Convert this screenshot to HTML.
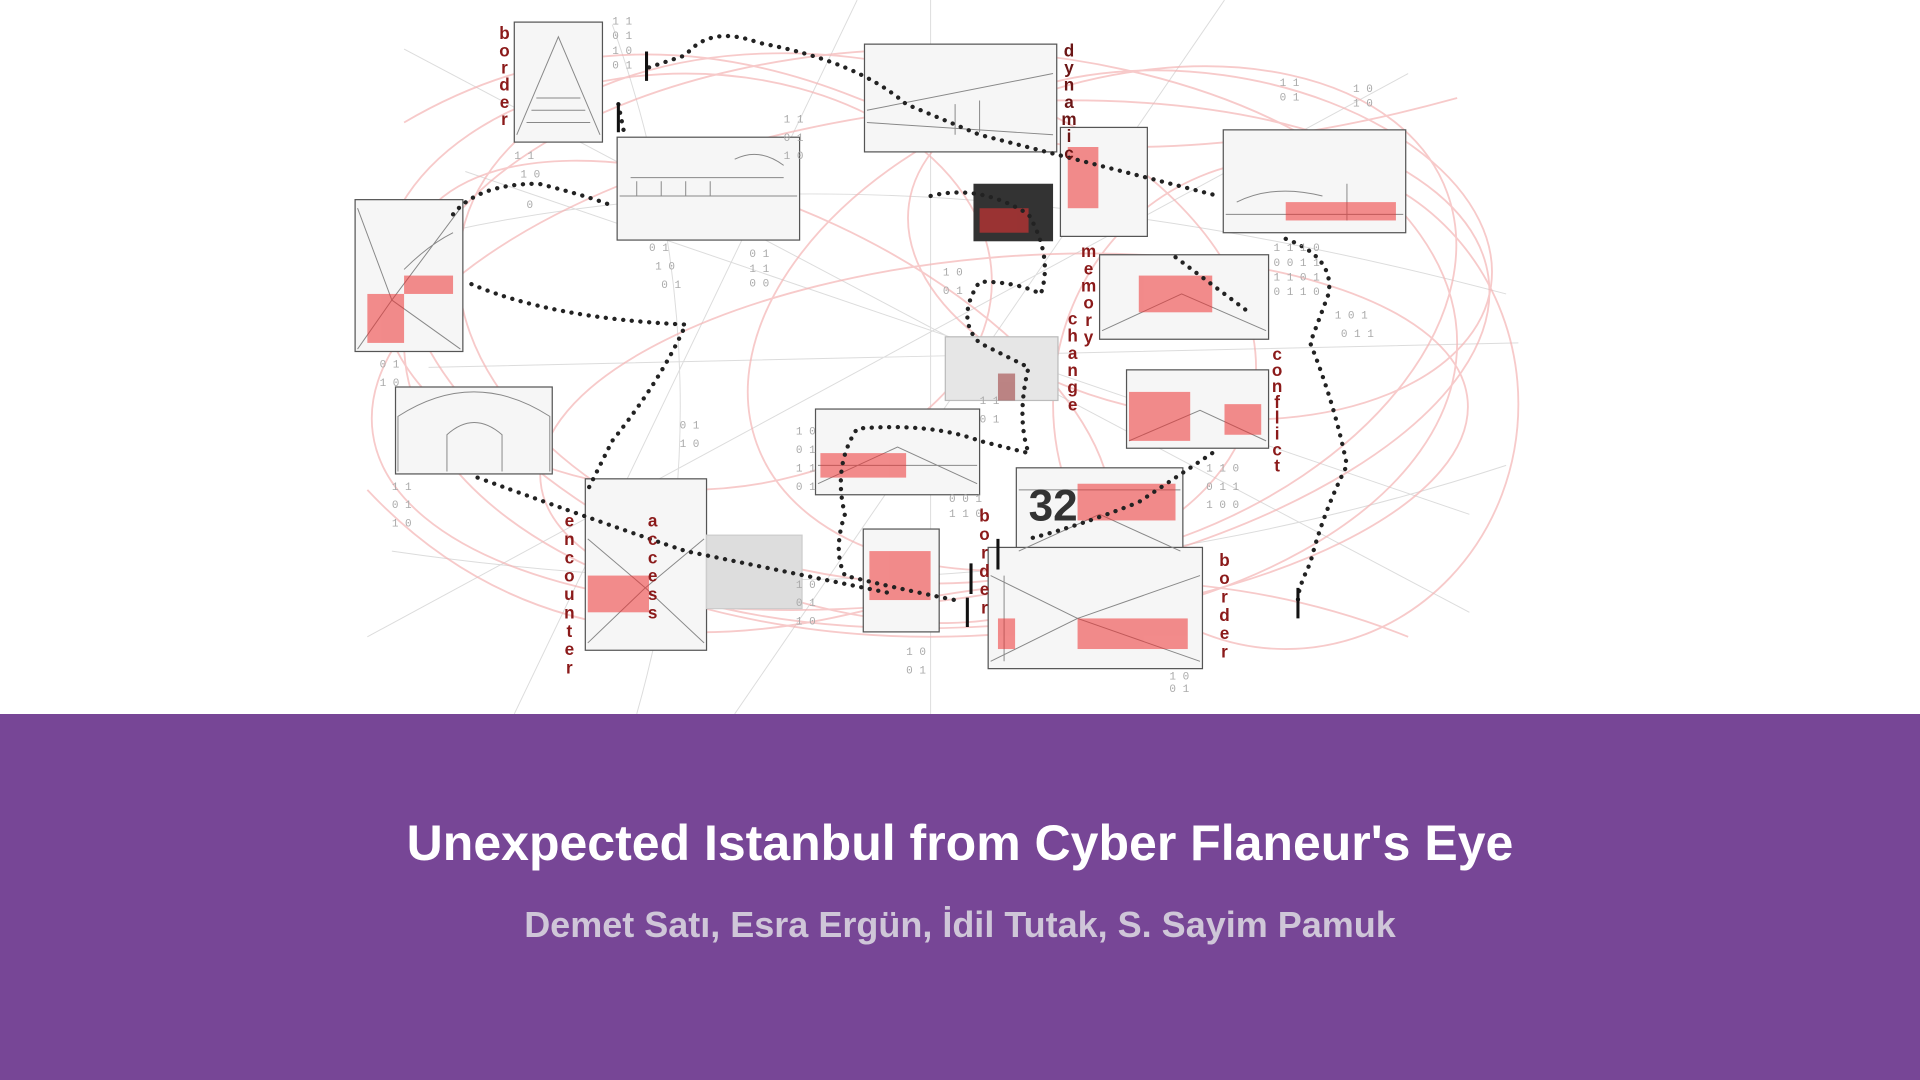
<!DOCTYPE html>
<html><head><meta charset="utf-8"><style>
html,body{margin:0;padding:0;width:1920px;height:1080px;overflow:hidden;background:#fff;font-family:"Liberation Sans",sans-serif}
#top{position:absolute;left:0;top:0;width:1920px;height:714px}
#band{position:absolute;left:0;top:714px;width:1920px;height:366px;background:#774696}
h1{position:absolute;top:100px;left:0;width:1920px;text-align:center;margin:0;color:#fff;font-size:50px;font-weight:bold}
h2{position:absolute;top:190px;left:0;width:1920px;text-align:center;margin:0;color:#cfc6d8;font-size:36px;font-weight:bold}
</style></head><body>
<svg id="top" viewBox="0 0 1568 583" width="1920" height="714">
<g fill="none" stroke="#dcdcdc" stroke-width="0.8">
<path d="M330 40 L1200 500 M300 520 L1150 60 M420 583 L700 0 M600 583 L1000 0 M760 583 L760 0 M350 300 L1240 280 M380 140 L1200 420"/>
<path d="M320 200 Q700 100 1230 240 M320 450 Q800 520 1230 380 M500 20 Q600 300 520 583"/>
</g>
<g fill="none" stroke="#f4b4b4" stroke-width="1.5" opacity="0.7">
<ellipse cx="760" cy="280" rx="430" ry="240"/>
<ellipse cx="760" cy="290" rx="460" ry="200" transform="rotate(-8 760 290)"/>
<ellipse cx="700" cy="260" rx="330" ry="210" transform="rotate(12 700 260)"/>
<ellipse cx="900" cy="260" rx="300" ry="190" transform="rotate(-20 900 260)"/>
<ellipse cx="620" cy="320" rx="310" ry="150" transform="rotate(25 620 320)"/>
<ellipse cx="980" cy="200" rx="240" ry="140" transform="rotate(8 980 200)"/>
<ellipse cx="560" cy="230" rx="250" ry="170"/>
<ellipse cx="820" cy="360" rx="380" ry="150" transform="rotate(-5 820 360)"/>
<ellipse cx="1050" cy="330" rx="190" ry="200"/>
<path d="M330 100 Q500 0 700 80 T1190 80 M300 400 Q450 560 700 500 T1150 520"/>
</g>
<g fill="#f6f6f6" stroke="#555" stroke-width="1">
<rect x="420" y="18" width="72" height="98"/>
<rect x="504" y="112" width="149" height="84"/>
<rect x="706" y="36" width="157" height="88"/>
<rect x="999" y="106" width="149" height="84"/>
<rect x="290" y="163" width="88" height="124"/>
<rect x="866" y="104" width="71" height="89"/>
<rect x="898" y="208" width="138" height="69"/>
<rect x="772" y="275" width="92" height="52" fill="#e6e6e6" stroke="#bbb"/>
<rect x="920" y="302" width="116" height="64"/>
<rect x="323" y="316" width="128" height="71"/>
<rect x="666" y="334" width="134" height="70"/>
<rect x="830" y="382" width="136" height="71"/>
<rect x="478" y="391" width="99" height="140"/>
<rect x="705" y="432" width="62" height="84"/>
<rect x="807" y="447" width="175" height="99"/>
<rect x="577" y="437" width="78" height="60" fill="#ddd" stroke="#ccc"/>
</g>
<g stroke="#888" stroke-width="0.8" fill="none">
<path d="M422 110 L456 30 L490 110 M430 100 H482 M434 90 H478 M438 80 H474"/>
<path d="M506 160 H651 M515 145 H640 M520 148 V160 M540 148 V160 M560 148 V160 M580 148 V160 M600 130 Q620 120 640 135"/>
<path d="M708 90 L860 60 M708 100 L860 110 M780 85 V110 M800 82 V108"/>
<path d="M1001 175 H1146 M1010 165 Q1040 150 1080 160 M1100 150 V180"/>
<path d="M292 170 L320 245 L376 170 M320 245 L292 285 M320 245 L376 285 M330 220 Q350 200 370 190"/>
<path d="M325 385 V340 Q387 300 449 340 V385 M365 385 V355 Q387 335 410 355 V385"/>
<path d="M668 395 L733 365 L798 395 M668 380 H798"/>
<path d="M832 450 L898 420 L964 450 M832 400 H964"/>
<path d="M809 540 L880 505 L980 540 M809 470 L880 505 M980 470 L880 505 M820 470 V540"/>
<path d="M480 525 L527 480 L575 525 M480 440 L527 480 L575 440"/>
<path d="M900 270 L965 240 L1034 270 M922 360 L980 335 L1034 360"/>
</g>
<rect x="795" y="150" width="65" height="47" fill="#333"/>
<g fill="#e33" opacity="0.55">
<rect x="872" y="120" width="25" height="50"/><rect x="930" y="225" width="60" height="30"/>
<rect x="922" y="320" width="50" height="40"/><rect x="1000" y="330" width="30" height="25"/>
<rect x="670" y="370" width="70" height="20"/><rect x="880" y="395" width="80" height="30"/>
<rect x="710" y="450" width="50" height="40"/><rect x="880" y="505" width="90" height="25"/>
<rect x="480" y="470" width="50" height="30"/><rect x="300" y="240" width="30" height="40"/>
<rect x="330" y="225" width="40" height="15"/><rect x="1050" y="165" width="90" height="15"/>
<rect x="815" y="305" width="14" height="22" fill="#933"/><rect x="800" y="170" width="40" height="20"/>
<rect x="815" y="505" width="14" height="25"/>
</g>
<text x="840" y="425" font-size="36" fill="#333" font-weight="bold">32</text>
<g fill="none" stroke="#222" stroke-width="3.5" stroke-dasharray="0.1 7" stroke-linecap="round">
<path d="M530 55 L560 45 Q580 20 620 35 Q700 50 740 85 L800 110 L995 160"/>
<path d="M505 85 L510 110"/>
<path d="M370 175 Q390 150 440 150 Q480 160 500 168"/>
<path d="M385 232 Q450 260 560 265 Q540 310 500 360 Q490 380 480 400"/>
<path d="M390 390 Q500 430 560 450 L730 485"/>
<path d="M760 160 Q800 150 840 175 Q860 210 850 240 Q830 230 800 230 Q780 260 800 280 L840 300 Q830 340 840 370 L800 360 Q760 345 700 350 Q680 380 690 420 Q680 450 690 470 Q730 480 780 490"/>
<path d="M960 210 Q1000 240 1020 255"/>
<path d="M1050 195 Q1090 210 1085 240 L1070 280 Q1090 330 1100 380 Q1080 420 1070 460 Q1060 480 1060 490"/>
<path d="M990 370 Q960 390 930 410 Q880 430 840 440"/>
</g>
<g stroke="#111" stroke-width="2.5">
<path d="M528 42 V66 M505 84 V108 M1060 480 V505 M790 488 V512 M793 460 V485 M815 440 V465"/>
</g>
<g font-family="Liberation Mono,monospace" font-size="9" fill="#aaa">
<text x="500" y="20">1 1</text><text x="500" y="32">0 1</text><text x="500" y="44">1 0</text><text x="500" y="56">0 1</text>
<text x="1045" y="70">1 1</text><text x="1045" y="82">0 1</text><text x="1105" y="75">1 0</text><text x="1105" y="87">1 0</text>
<text x="420" y="130">1 1</text><text x="425" y="145">1 0</text><text x="430" y="170">0</text>
<text x="640" y="100">1 1</text><text x="640" y="115">0 1</text><text x="640" y="130">1 0</text>
<text x="612" y="210">0 1</text><text x="612" y="222">1 1</text><text x="612" y="234">0 0</text>
<text x="530" y="205">0 1</text><text x="535" y="220">1 0</text><text x="540" y="235">0 1</text>
<text x="1040" y="205">1 1 1 0</text><text x="1040" y="217">0 0 1 1</text><text x="1040" y="229">1 1 0 1</text><text x="1040" y="241">0 1 1 0</text><text x="1090" y="260">1 0 1</text><text x="1095" y="275">0 1 1</text>
<text x="985" y="385">1 1 0</text><text x="985" y="400">0 1 1</text><text x="985" y="415">1 0 0</text>
<text x="310" y="300">0 1</text><text x="310" y="315">1 0</text><text x="320" y="400">1 1</text><text x="320" y="415">0 1</text><text x="320" y="430">1 0</text>
<text x="650" y="355">1 0</text><text x="650" y="370">0 1</text><text x="650" y="385">1 1</text><text x="650" y="400">0 1</text><text x="650" y="480">1 0</text><text x="650" y="495">0 1</text><text x="650" y="510">1 0</text>
<text x="775" y="410">0 0 1</text><text x="775" y="422">1 1 0</text><text x="740" y="535">1 0</text><text x="740" y="550">0 1</text>
<text x="555" y="350">0 1</text><text x="555" y="365">1 0</text><text x="955" y="555">1 0</text><text x="955" y="565">0 1</text>
<text x="770" y="225">1 0</text><text x="770" y="240">0 1</text><text x="800" y="330">1 1</text><text x="800" y="345">0 1</text>
</g>
<g font-size="14" font-weight="bold" fill="#8b1a1a" text-anchor="middle">
<text x="412" y="32"><tspan x="412">b</tspan><tspan x="412" dy="14">o</tspan><tspan x="412" dy="14">r</tspan><tspan x="412" dy="14">d</tspan><tspan x="412" dy="14">e</tspan><tspan x="412" dy="14">r</tspan></text>
<text x="873" y="46" fill="#6b1515"><tspan x="873">d</tspan><tspan x="873" dy="14">y</tspan><tspan x="873" dy="14">n</tspan><tspan x="873" dy="14">a</tspan><tspan x="873" dy="14">m</tspan><tspan x="873" dy="14">i</tspan><tspan x="873" dy="14">c</tspan></text>
<text x="889" y="210"><tspan x="889">m</tspan><tspan x="889" dy="14">e</tspan><tspan x="889" dy="14">m</tspan><tspan x="889" dy="14">o</tspan><tspan x="889" dy="14">r</tspan><tspan x="889" dy="14">y</tspan></text>
<text x="876" y="265"><tspan x="876">c</tspan><tspan x="876" dy="14">h</tspan><tspan x="876" dy="14">a</tspan><tspan x="876" dy="14">n</tspan><tspan x="876" dy="14">g</tspan><tspan x="876" dy="14">e</tspan></text>
<text x="1043" y="294"><tspan x="1043">c</tspan><tspan x="1043" dy="13">o</tspan><tspan x="1043" dy="13">n</tspan><tspan x="1043" dy="13">f</tspan><tspan x="1043" dy="13">l</tspan><tspan x="1043" dy="13">i</tspan><tspan x="1043" dy="13">c</tspan><tspan x="1043" dy="13">t</tspan></text>
<text x="465" y="430"><tspan x="465">e</tspan><tspan x="465" dy="15">n</tspan><tspan x="465" dy="15">c</tspan><tspan x="465" dy="15">o</tspan><tspan x="465" dy="15">u</tspan><tspan x="465" dy="15">n</tspan><tspan x="465" dy="15">t</tspan><tspan x="465" dy="15">e</tspan><tspan x="465" dy="15">r</tspan></text>
<text x="533" y="430"><tspan x="533">a</tspan><tspan x="533" dy="15">c</tspan><tspan x="533" dy="15">c</tspan><tspan x="533" dy="15">e</tspan><tspan x="533" dy="15">s</tspan><tspan x="533" dy="15">s</tspan></text>
<text x="804" y="426"><tspan x="804">b</tspan><tspan x="804" dy="15">o</tspan><tspan x="804" dy="15">r</tspan><tspan x="804" dy="15">d</tspan><tspan x="804" dy="15">e</tspan><tspan x="804" dy="15">r</tspan></text>
<text x="1000" y="462"><tspan x="1000">b</tspan><tspan x="1000" dy="15">o</tspan><tspan x="1000" dy="15">r</tspan><tspan x="1000" dy="15">d</tspan><tspan x="1000" dy="15">e</tspan><tspan x="1000" dy="15">r</tspan></text>
</g>
</svg>
<div id="band">
<h1>Unexpected Istanbul from Cyber Flaneur's Eye</h1>
<h2>Demet Satı, Esra Ergün, İdil Tutak, S. Sayim Pamuk</h2>
</div>
</body></html>
